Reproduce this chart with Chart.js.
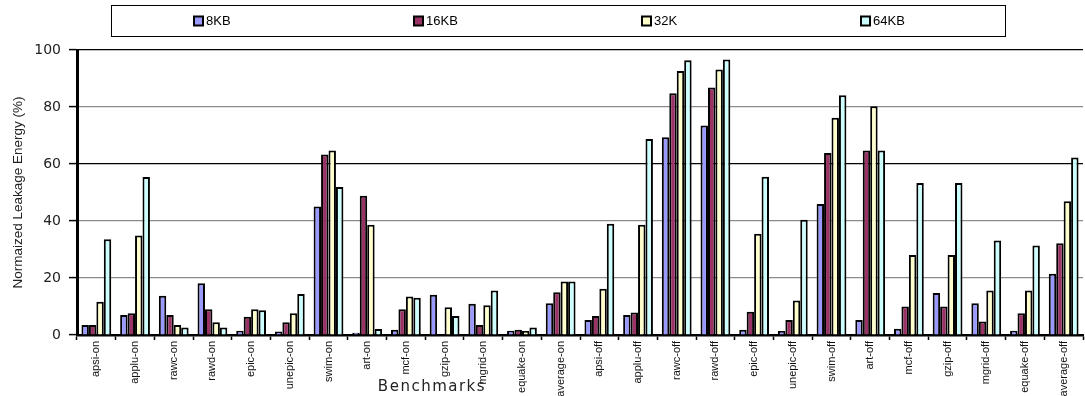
<!DOCTYPE html>
<html>
<head>
<meta charset="utf-8">
<script src="https://cdn.jsdelivr.net/npm/chart.js@4"></script>
<style>
  html, body { margin: 0; padding: 0; background: #fff; }
</style>
</head>
<body>
<canvas id="leakChart" width="1085" height="396"></canvas>
<script>
// ベンチマーク名
var benchmarks = ['apsi-on', 'applu-on', 'rawc-on', 'rawd-on', 'epic-on', 'unepic-on', 'swim-on',
  'art-on', 'mcf-on', 'gzip-on', 'mgrid-on', 'equake-on', 'average-on',
  'apsi-off', 'applu-off', 'rawc-off', 'rawd-off', 'epic-off', 'unepic-off', 'swim-off',
  'art-off', 'mcf-off', 'gzip-off', 'mgrid-off', 'equake-off', 'average-off'];

var kb8  = [3.5, 7.0, 13.8, 18.2, 1.5, 1.2, 45.1, 0.8, 1.8, 14.1, 11.0, 1.5, 11.1,
            5.3, 7.0, 69.4, 73.5, 1.8, 1.4, 46.0, 5.3, 2.2, 14.7, 11.1, 1.5, 21.5];
var kb16 = [3.5, 7.6, 7.0, 9.0, 6.4, 4.5, 63.3, 48.9, 9.0, 0, 3.5, 1.8, 15.0,
            6.7, 7.9, 84.8, 86.8, 8.2, 5.3, 63.9, 64.7, 10.0, 10.0, 4.7, 7.6, 32.2];
var kb32 = [11.7, 34.9, 3.5, 4.5, 9.0, 7.6, 64.7, 38.7, 13.5, 9.7, 10.4, 1.4, 18.8,
            16.2, 38.7, 92.6, 93.2, 35.5, 12.1, 76.2, 80.3, 28.1, 28.1, 15.6, 15.6, 46.9];
var kb64 = [33.6, 55.4, 2.6, 2.6, 8.7, 14.4, 51.9, 2.1, 13.1, 6.7, 15.6, 2.6, 18.8,
            39.0, 68.8, 96.4, 96.7, 55.5, 40.4, 84.1, 64.7, 53.3, 53.3, 33.2, 31.4, 62.3];

var yTicks = [0, 20, 40, 60, 80, 100];

function makeSet(label, values, color) {
  return {
    label: label,
    data: values,
    backgroundColor: color
  };
}

// 枠付き凡例と x 軸タイトル
var boxLegend = {
  id: 'boxLegend',
  afterDraw: function(chart) {
    var ctx = chart.ctx;
    var left = 111, top = 5, w = 894, h = 31;
    ctx.save();
    ctx.strokeStyle = '#000';
    ctx.lineWidth = 1;
    ctx.strokeRect(left + 0.5, top + 0.5, w, h);
    ctx.font = '13px "Liberation Sans", Arial, sans-serif';
    ctx.textBaseline = 'middle';
    chart.data.datasets.forEach(function(ds, i) {
      var tw = ctx.measureText(ds.label).width;
      var itemW = 12 + tw;
      var cx = left + (i + 0.5) * w / 4 - 10;
      var x = Math.round(cx - itemW / 2);
      var y = top + h / 2 + 1;
      ctx.fillStyle = ds.backgroundColor;
      ctx.fillRect(x, y - 5, 9, 9);
      ctx.lineWidth = 2;
      ctx.strokeRect(x, y - 5, 9, 9);
      ctx.fillStyle = '#000';
      ctx.fillText(ds.label, x + 12, y);
    });
    ctx.font = '15px "DejaVu Sans", sans-serif';
    ctx.letterSpacing = '1.5px';
    ctx.textAlign = 'center';
    ctx.fillStyle = '#222';
    ctx.fillText('Benchmarks', 432, 387);
    ctx.restore();
  }
};

var leakConfig = {
  type: 'bar',
  data: {
    labels: benchmarks,
    datasets: [
      makeSet('8KB', kb8, '#9999FF'),
      makeSet('16KB', kb16, '#993366'),
      makeSet('32K', kb32, '#FFFFCC'),
      makeSet('64KB', kb64, '#CCFFFF')
    ]
  },
  options: {
    responsive: false,
    animation: false,
    datasets: {
      bar: {
        barPercentage: 1.0,
        categoryPercentage: 0.77,
        borderColor: '#000',
        borderWidth: 2,
        inflateAmount: 0
      }
    },
    layout: { padding: { top: 50, right: 2, left: 0, bottom: 0 } },
    plugins: {
      legend: { display: false },
      tooltip: { enabled: false }
    },
    scales: {
      x: {
        grid: { drawOnChartArea: false, drawTicks: true, tickLength: 5, color: '#000', tickWidth: 1.5 },
        border: { color: '#000', width: 2.5 },
        ticks: {
          autoSkip: false,
          minRotation: 90,
          maxRotation: 90,
          padding: 1,
          color: '#111',
          font: { family: '"Liberation Sans", Arial, sans-serif', size: 11 }
        },
        afterFit: function(scale) { scale.height = 61; }
      },
      y: {
        min: 0,
        max: 100,
        afterBuildTicks: function(scale) {
          scale.ticks = yTicks.map(function(v) { return { value: v }; });
        },
        grid: {
          color: function(c) {
            var v = c.tick ? c.tick.value : 0;
            return (v === 60 || v === 100) ? '#000' : '#8a8a8a';
          },
          lineWidth: 1.2,
          tickLength: 8,
          tickColor: '#000',
          tickWidth: 1.5
        },
        border: { color: '#000', width: 3 },
        ticks: {
          padding: 8,
          color: '#222',
          font: { family: '"DejaVu Sans", sans-serif', size: 14 }
        },
        title: {
          display: true,
          text: 'Normaized Leakage Energy (%)',
          color: '#222',
          padding: { top: 10, bottom: 4 },
          font: { family: '"Liberation Sans", Arial, sans-serif', size: 13.5 }
        },
        afterFit: function(scale) { scale.width = 77; }
      }
    }
  },
  plugins: [boxLegend]
};

var leakChart = new Chart(
  document.getElementById('leakChart'),
  leakConfig
);
</script>
</body>
</html>
